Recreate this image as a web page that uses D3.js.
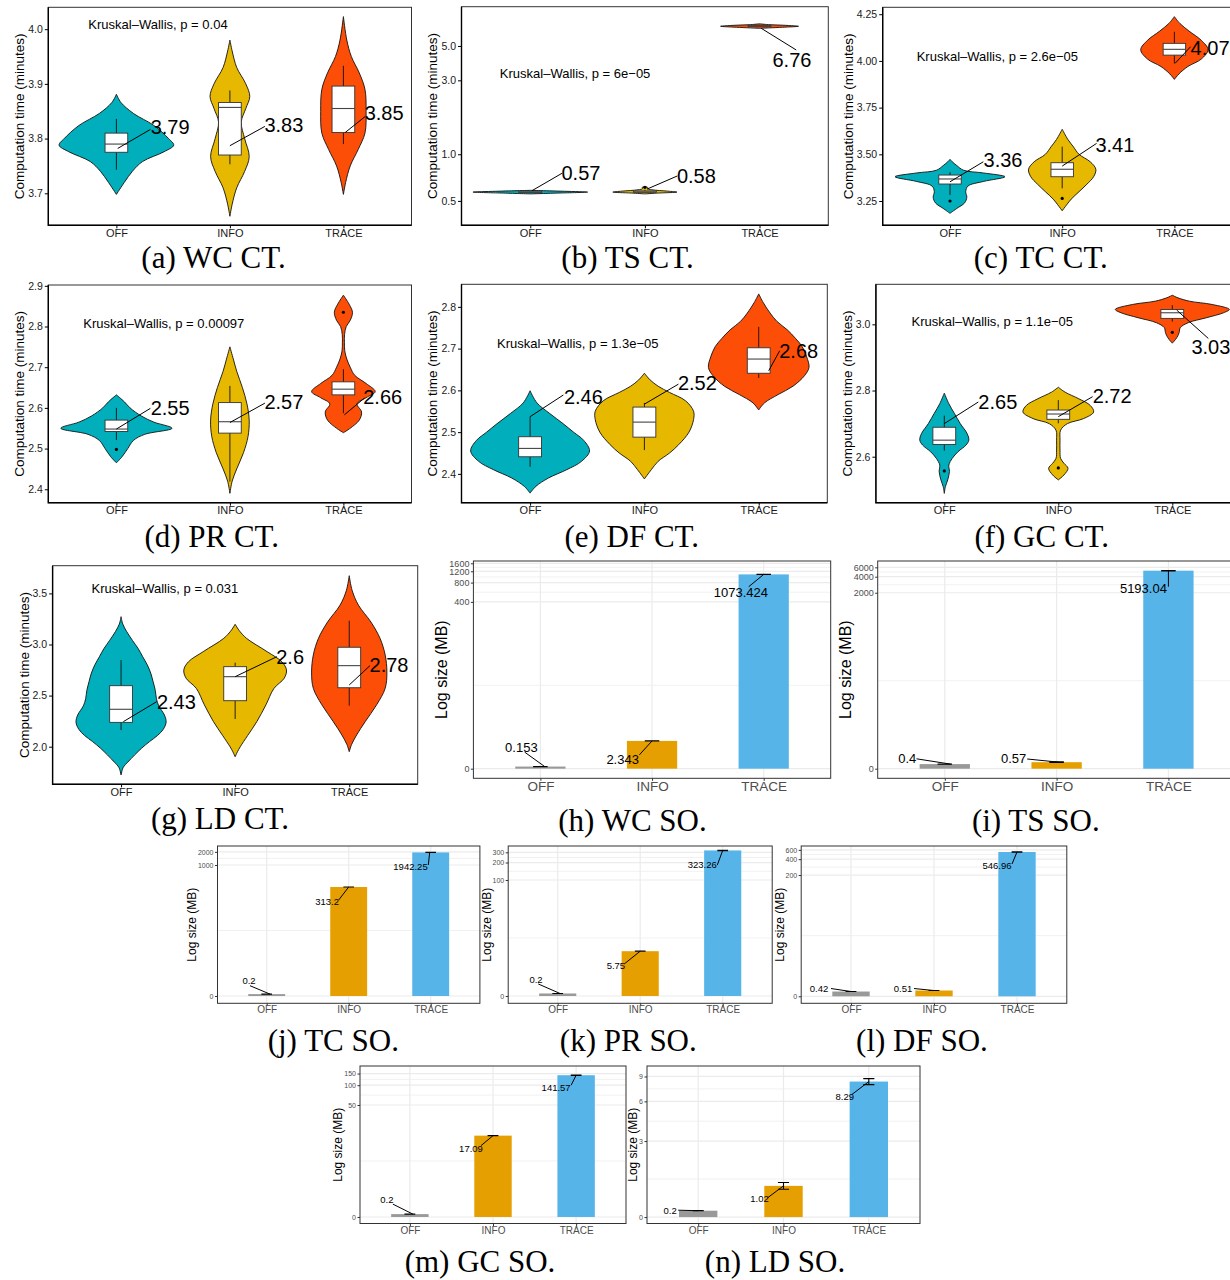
<!DOCTYPE html>
<html>
<head>
<meta charset="utf-8">
<script src="https://cdn.jsdelivr.net/npm/d3@7"></script>
<style>
  body { margin: 0; background: #fff; }
  svg { display: block; }
</style>
</head>
<body>
<svg id="fig" width="1230" height="1280"></svg>
<script>
// ---------------------------------------------------------------
// Data
// ---------------------------------------------------------------
const levels = ["OFF", "INFO", "TRACE"];
const violinFill = ["#00AFBB", "#E7B800", "#FC4E07"];
const barFill = ["#999999", "#E69F00", "#56B4E9"];

// Computation time: density outline per level as [minutes, half-width in category units],
// box stats as [lower whisker, Q1, median, Q3, upper whisker], outliers, mean.
const wcCtDensity = [
  [[3.698,0],[3.72,0.07],[3.74,0.14],[3.758,0.23],[3.776,0.42],[3.788,0.505],[3.80,0.46],[3.824,0.33],[3.846,0.15],[3.866,0.04],[3.881,0]],
  [[3.658,0],[3.68,0.02],[3.71,0.06],[3.74,0.13],[3.767,0.17],[3.80,0.13],[3.83,0.10],[3.855,0.14],[3.877,0.175],[3.90,0.14],[3.93,0.06],[3.96,0.02],[3.98,0]],
  [[3.698,0],[3.72,0.02],[3.75,0.06],[3.78,0.13],[3.81,0.19],[3.85,0.2],[3.89,0.19],[3.92,0.14],[3.95,0.07],[3.98,0.03],[4.023,0]]
];
const wcCtBox = [[3.743,3.775,3.790,3.81,3.836],[3.753,3.770,3.857,3.866,3.888],[3.790,3.811,3.855,3.896,3.933]];
const wcCtOutliers = [[],[],[]];
const wcCtMean = [3.79, 3.83, 3.85];
const wcCtTicks = [3.7, 3.8, 3.9, 4.0];
const wcCtTest = "Kruskal\u2013Wallis, p = 0.04";

const tsCtDensity = [
  [[0.555,0],[0.562,0.25],[0.57,0.5],[0.577,0.3],[0.585,0]],
  [[0.555,0],[0.562,0.12],[0.57,0.28],[0.578,0.2],[0.59,0.06],[0.60,0.02],[0.61,0.025],[0.62,0]],
  [[6.5,0],[6.6,0.2],[6.7,0.34],[6.78,0.25],[6.88,0.06],[6.95,0]]
];
const tsCtBox = [[0.562,0.566,0.570,0.577,0.582],[0.565,0.568,0.572,0.58,0.59],[6.62,6.68,6.72,6.78,6.85]];
const tsCtOutliers = [[],[0.612],[]];
const tsCtMean = [0.57, 0.58, 6.76];
const tsCtTicks = [0.5, 1.0, 3.0, 5.0];
const tsCtTest = "Kruskal\u2013Wallis, p = 6e\u221205";

const tcCtDensity = [
  [[3.184,0],[3.21,0.06],[3.24,0.13],[3.27,0.15],[3.30,0.14],[3.33,0.16],[3.355,0.3],[3.38,0.49],[3.40,0.3],[3.415,0.12],[3.44,0.06],[3.46,0.02],[3.473,0]],
  [[3.198,0],[3.23,0.04],[3.26,0.08],[3.30,0.15],[3.34,0.22],[3.38,0.28],[3.42,0.30],[3.46,0.25],[3.50,0.15],[3.54,0.10],[3.58,0.05],[3.634,0]],
  [[3.901,0],[3.93,0.04],[3.97,0.12],[4.01,0.24],[4.06,0.30],[4.11,0.24],[4.16,0.13],[4.20,0.05],[4.237,0]]
];
const tcCtBox = [[3.282,3.341,3.368,3.389,3.404],[3.318,3.380,3.42,3.455,3.541],[3.987,4.031,4.062,4.094,4.156]];
const tcCtOutliers = [[3.25],[3.264],[]];
const tcCtMean = [3.36, 3.41, 4.07];
const tcCtTicks = [3.25, 3.5, 3.75, 4.0, 4.25];
const tcCtTest = "Kruskal\u2013Wallis, p = 2.6e\u221205";

const prCtDensity = [
  [[2.465,0],[2.48,0.05],[2.50,0.1],[2.52,0.15],[2.535,0.25],[2.55,0.49],[2.565,0.33],[2.58,0.22],[2.60,0.12],[2.615,0.07],[2.632,0]],
  [[2.39,0],[2.42,0.02],[2.45,0.06],[2.49,0.12],[2.53,0.16],[2.57,0.17],[2.61,0.15],[2.65,0.11],[2.69,0.06],[2.72,0.03],[2.75,0]],
  [[2.539,0],[2.55,0.06],[2.57,0.14],[2.59,0.16],[2.61,0.12],[2.625,0.2],[2.64,0.28],[2.66,0.2],[2.68,0.1],[2.70,0.06],[2.72,0.03],[2.74,0.012],[2.76,0.009],[2.78,0.01],[2.80,0.025],[2.815,0.06],[2.835,0.08],[2.855,0.05],[2.877,0]]
];
const prCtBox = [[2.521,2.542,2.548,2.570,2.60],[2.419,2.538,2.566,2.613,2.654],[2.587,2.632,2.646,2.664,2.695]];
const prCtOutliers = [[2.498],[],[2.835]];
const prCtMean = [2.55, 2.57, 2.66];
const prCtTicks = [2.4, 2.5, 2.6, 2.7, 2.8, 2.9];
const prCtTest = "Kruskal\u2013Wallis, p = 0.00097";

const dfCtDensity = [
  [[2.354,0],[2.37,0.05],[2.39,0.16],[2.41,0.32],[2.43,0.45],[2.455,0.52],[2.48,0.47],[2.50,0.38],[2.52,0.29],[2.545,0.17],[2.57,0.06],[2.599,0]],
  [[2.388,0],[2.41,0.06],[2.43,0.12],[2.45,0.22],[2.47,0.3],[2.50,0.39],[2.53,0.43],[2.55,0.43],[2.575,0.36],[2.595,0.22],[2.61,0.12],[2.625,0.05],[2.641,0]],
  [[2.553,0],[2.57,0.05],[2.59,0.17],[2.61,0.3],[2.635,0.4],[2.655,0.44],[2.68,0.42],[2.705,0.38],[2.725,0.32],[2.745,0.25],[2.765,0.16],[2.785,0.1],[2.81,0.04],[2.831,0]]
];
const dfCtBox = [[2.417,2.441,2.461,2.489,2.537],[2.457,2.488,2.524,2.56,2.57],[2.63,2.641,2.675,2.702,2.752]];
const dfCtOutliers = [[],[],[]];
const dfCtMean = [2.46, 2.52, 2.68];
const dfCtTicks = [2.4, 2.5, 2.6, 2.7, 2.8];
const dfCtTest = "Kruskal\u2013Wallis, p = 1.3e\u221205";

const gcCtDensity = [
  [[2.489,0],[2.51,0.01],[2.53,0.03],[2.555,0.045],[2.575,0.04],[2.595,0.07],[2.615,0.12],[2.635,0.19],[2.65,0.215],[2.67,0.2],[2.70,0.14],[2.73,0.09],[2.76,0.04],[2.792,0]],
  [[2.53,0],[2.545,0.05],[2.565,0.085],[2.58,0.05],[2.595,0.02],[2.62,0.015],[2.65,0.015],[2.68,0.02],[2.70,0.08],[2.715,0.22],[2.735,0.31],[2.755,0.28],[2.775,0.18],[2.795,0.06],[2.81,0]],
  [[2.943,0],[2.96,0.04],[2.975,0.06],[2.99,0.07],[3.005,0.14],[3.02,0.3],[3.035,0.45],[3.045,0.5],[3.06,0.35],[3.07,0.15],[3.08,0.05],[3.088,0]]
];
const gcCtBox = [[2.618,2.637,2.65,2.689,2.724],[2.701,2.713,2.729,2.741,2.771],[3.008,3.018,3.035,3.045,3.058]];
const gcCtOutliers = [[2.557],[2.566],[2.976]];
const gcCtMean = [2.65, 2.72, 3.03];
const gcCtTicks = [2.6, 2.8, 3.0];
const gcCtTest = "Kruskal\u2013Wallis, p = 1.1e\u221205";

const ldCtDensity = [
  [[1.723,0],[1.80,0.02],[1.85,0.06],[1.92,0.12],[1.985,0.18],[2.05,0.25],[2.11,0.32],[2.17,0.37],[2.24,0.395],[2.31,0.38],[2.40,0.33],[2.47,0.31],[2.55,0.3],[2.64,0.28],[2.72,0.26],[2.80,0.23],[2.88,0.19],[2.96,0.15],[3.04,0.1],[3.125,0.05],[3.20,0.015],[3.272,0]],
  [[1.902,0],[1.95,0.02],[2.0,0.045],[2.11,0.11],[2.245,0.19],[2.41,0.27],[2.57,0.34],[2.67,0.43],[2.75,0.45],[2.83,0.41],[2.93,0.28],[3.06,0.1],[3.13,0.04],[3.198,0]],
  [[1.951,0],[2.02,0.02],[2.115,0.065],[2.245,0.14],[2.41,0.24],[2.571,0.315],[2.73,0.33],[2.897,0.315],[3.06,0.27],[3.22,0.19],[3.386,0.08],[3.53,0.025],[3.673,0]]
];
const ldCtBox = [[2.163,2.238,2.366,2.597,2.848],[2.271,2.45,2.685,2.783,2.822],[2.401,2.577,2.793,2.973,3.233]];
const ldCtOutliers = [[],[],[]];
const ldCtMean = [2.43, 2.6, 2.78];
const ldCtTicks = [2.0, 2.5, 3.0, 3.5];
const ldCtTest = "Kruskal\u2013Wallis, p = 0.031";

// Storage overhead (MB): mean and standard deviation per level, axis ticks.
const wcSoMean = [0.153, 2.343, 1073.424];
const wcSoSd = [0.002, 0.01, 3];
const wcSoTicks = [0, 400, 800, 1200, 1600];

const tsSoMean = [0.4, 0.57, 5193.04];
const tsSoSd = [0.004, 0.03, 40];
const tsSoTicks = [0, 2000, 4000, 6000];

const tcSoMean = [0.2, 313.2, 1942.25];
const tcSoSd = [0.002, 1, 8];
const tcSoTicks = [0, 1000, 2000];

const prSoMean = [0.2, 5.75, 323.26];
const prSoSd = [0.002, 0.03, 2];
const prSoTicks = [0, 100, 200, 300];

const dfSoMean = [0.42, 0.51, 546.96];
const dfSoSd = [0.004, 0.004, 3];
const dfSoTicks = [0, 200, 400, 600];

const gcSoMean = [0.2, 17.09, 141.57];
const gcSoSd = [0.002, 0.1, 1];
const gcSoTicks = [0, 50, 100, 150];

const ldSoMean = [0.2, 1.02, 8.29];
const ldSoSd = [0.003, 0.12, 0.4];
const ldSoTicks = [0, 3, 6, 9];

// ---------------------------------------------------------------
// Layout
// ---------------------------------------------------------------
const svg = d3.select("#fig");
const SANS = "'Liberation Sans', Arial, Helvetica, sans-serif";
const SERIF = "'Liberation Serif', 'Times New Roman', serif";

// leader placement: [start value, start dx, end dx, end dy, text dx, text dy] (px relative to start)
const ctLeaders = {
  a: [[3.782,1.3,32.7,-19,52.4,-21.6],[3.787,0,35,-19.3,54,-21],[3.811,1.7,20,-16,39,-20]],
  b: [[0.582,1.7,30,-17.4,49,-18],[0.597,2.4,30,-13,49.1,-13],[6.50,1.7,35,21.7,30.7,31.7]],
  c: [[3.353,0,33.3,-20,53,-21.7],[3.437,0,34.4,-22.7,52.7,-21],[3.987,0.7,15.5,-16.6,35,-15]],
  d: [[2.548,0,34,-20.7,53.7,-20.7],[2.564,0,35,-19.4,54,-21],[2.583,1,20,-16.7,38.3,-18.3]],
  e: [[2.537,0,33.3,-21.7,53.3,-20],[2.567,0,34,-20,53,-20.7],[2.647,10,11,-20,30,-19.7]],
  f: [[2.70,0,34,-21.6,53.5,-21.6],[2.721,0,34.3,-20,53.8,-20.7],[3.043,4.4,31.6,28.3,34.2,36.7]],
  g: [[2.245,2.3,33.4,-20,53,-20],[2.685,0,41.7,-20,55,-20],[2.604,0,20.7,-19.3,39.8,-20]]
};
// bar value labels: [start dx, end dx, end dy, text dx, text dy]
const soLeaders = {
  h: [[4.3,-20,-14.4,-23.3,-19],[0,-12.7,14,-29.4,18.3],[0,-15,12.3,-22.8,18.3]],
  i: [[5.7,-34,-5.3,-43.2,-6],[2.3,-31.7,-3.2,-45.3,-3.9],[0,0,16,-25,17.6]],
  j: [[3.3,-20,-8.4,-21,-13.4],[0,-10,13,-21.6,14],[-1,-1.4,12.6,-19.2,13.6]],
  k: [[2.3,-21.7,-9.5,-24,-13.5],[0,-16,12.8,-24.3,13.8],[0,-5.4,14.6,-20.4,13.9]],
  l: [[0,-20,-3,-32,-3],[0,-20,-2,-31,-2],[0,-5,12,-20,13]],
  m: [[3,-20,-10,-26,-15],[0,-12,10,-22,13],[0,-5,10,-20,12]],
  n: [[0,-20,-0.5,-28,0],[0,-16,12,-24,13],[0,-17,13,-24,15]]
};

const ctPanels = [
  {id:"a", frame:[48.3,7.3,411.5,225.3], log:false, domain:[3.6415,4.040], fmt:".1f",
   density:wcCtDensity, stats:wcCtBox, outliers:wcCtOutliers, mean:wcCtMean, ticks:wcCtTicks, test:wcCtTest, testAt:[40,4.008],
   caption:"(a) WC CT.", capAt:[213.5,268]},
  {id:"b", frame:[461.5,6.7,828.3,225.3], log:true, domain:[0.348,8.96], fmt:".1f",
   density:tsCtDensity, stats:tsCtBox, outliers:tsCtOutliers, mean:tsCtMean, ticks:tsCtTicks, test:tsCtTest, testAt:[38.3,3.33],
   caption:"(b) TS CT.", capAt:[627.5,268]},
  {id:"c", frame:[882.7,7.3,1241.7,225.3], log:false, domain:[3.120,4.287], fmt:".2f",
   density:tcCtDensity, stats:tcCtBox, outliers:tcCtOutliers, mean:tcCtMean, ticks:tcCtTicks, test:tcCtTest, testAt:[34,4.022],
   caption:"(c) TC CT.", capAt:[1040.8,268]},
  {id:"d", frame:[48.3,285,411.5,502.7], log:false, domain:[2.367,2.902], fmt:".1f",
   density:prCtDensity, stats:prCtBox, outliers:prCtOutliers, mean:prCtMean, ticks:prCtTicks, test:prCtTest, testAt:[35,2.808],
   caption:"(d) PR CT.", capAt:[211.7,546.5]},
  {id:"e", frame:[461.5,284.3,827.3,502.7], log:false, domain:[2.331,2.854], fmt:".1f",
   density:dfCtDensity, stats:dfCtBox, outliers:dfCtOutliers, mean:dfCtMean, ticks:dfCtTicks, test:dfCtTest, testAt:[35.6,2.713],
   caption:"(e) DF CT.", capAt:[631.7,546.5]},
  {id:"f", frame:[875.9,284.3,1240.7,502.7], log:false, domain:[2.461,3.121], fmt:".1f",
   density:gcCtDensity, stats:gcCtBox, outliers:gcCtOutliers, mean:gcCtMean, ticks:gcCtTicks, test:gcCtTest, testAt:[35.7,3.008],
   caption:"(f) GC CT.", capAt:[1041.7,546.5]},
  {id:"g", frame:[52.6,565.7,417.7,784.3], log:false, domain:[1.632,3.771], fmt:".1f",
   density:ldCtDensity, stats:ldCtBox, outliers:ldCtOutliers, mean:ldCtMean, ticks:ldCtTicks, test:ldCtTest, testAt:[39,3.55],
   caption:"(g) LD CT.", capAt:[220,829]}
];

const soPanels = [
  {id:"h", frame:[473.4,561,830.7,778.3], tDomain:[-0.150,3.240], mean:wcSoMean, sd:wcSoSd, ticks:wcSoTicks, big:true,
   caption:"(h) WC SO.", capAt:[632.5,831]},
  {id:"i", frame:[877.7,561,1235.5,778.3], tDomain:[-0.180,3.897], mean:tsSoMean, sd:tsSoSd, ticks:tsSoTicks, big:true,
   caption:"(i) TS SO.", capAt:[1035.8,831]},
  {id:"j", frame:[217.5,846,479.9,1003.3], tDomain:[-0.167,3.435], mean:tcSoMean, sd:tcSoSd, ticks:tcSoTicks, big:false,
   caption:"(j) TC SO.", capAt:[333.3,1051]},
  {id:"k", frame:[508.2,846,772.2,1003.3], tDomain:[-0.126,2.586], mean:prSoMean, sd:prSoSd, ticks:prSoTicks, big:false,
   caption:"(k) PR SO.", capAt:[628.3,1051]},
  {id:"l", frame:[801.2,846,1066.8,1003.3], tDomain:[-0.133,2.852], mean:dfSoMean, sd:dfSoSd, ticks:dfSoTicks, big:false,
   caption:"(l) DF SO.", capAt:[922,1051]},
  {id:"m", frame:[360,1066,626,1223.5], tDomain:[-0.099,2.291], mean:gcSoMean, sd:gcSoSd, ticks:gcSoTicks, big:false,
   caption:"(m) GC SO.", capAt:[480,1272]},
  {id:"n", frame:[647,1066,920,1223.5], tDomain:[-0.044,1.031], mean:ldSoMean, sd:ldSoSd, ticks:ldSoTicks, big:false,
   caption:"(n) LD SO.", capAt:[775,1272]}
];

// ---------------------------------------------------------------
// Helpers
// ---------------------------------------------------------------
function styleAxis(sel, size, color, tickColor) {
  sel.select(".domain").remove();
  sel.selectAll(".tick line").attr("stroke", tickColor).attr("stroke-width", 1);
  sel.selectAll(".tick text").attr("fill", color)
    .style("font-size", size + "px").style("font-family", SANS);
}

function maxLabelWidth(sel) {
  let w = 0;
  sel.selectAll(".tick text").each(function () { w = Math.max(w, this.getBBox().width); });
  return w;
}

function yTitle(g, text, x, cy, size) {
  g.append("text")
    .attr("transform", `translate(${x},${cy}) rotate(-90)`)
    .attr("text-anchor", "middle").attr("dy", "0.35em")
    .style("font-family", SANS).style("font-size", size + "px").attr("fill", "#000")
    .text(text);
}

function caption(text, at) {
  svg.append("text").attr("x", at[0]).attr("y", at[1]).attr("text-anchor", "middle")
    .style("font-family", SERIF).style("font-size", "31px").attr("fill", "#000")
    .text(text);
}

// pseudo-log axis (asinh(v/2) / ln 10) built on a linear scale
function pseudoLog(lin) {
  const s = v => lin(Math.asinh(v / 2) / Math.LN10);
  s.range = () => lin.range();
  s.domain = () => lin.domain().map(t => 2 * Math.sinh(t * Math.LN10));
  s.copy = () => pseudoLog(lin.copy());
  return s;
}

// ---------------------------------------------------------------
// Violin panels: computation time
// ---------------------------------------------------------------
function violinPanel(p) {
  const [L, T, R, B] = p.frame;
  const g = svg.append("g").attr("class", "panel-" + p.id);
  const x = d3.scalePoint().domain(levels).range([L, R]).padding(0.6);
  const step = x.step();
  const y = (p.log ? d3.scaleLog() : d3.scaleLinear()).domain(p.domain).range([B, T]);

  // violins
  p.density.forEach((prof, i) => {
    const cx = x(levels[i]);
    const area = d3.area().curve(d3.curveCatmullRom.alpha(0.5))
      .y(d => y(d[0])).x0(d => cx - d[1] * step).x1(d => cx + d[1] * step);
    g.append("path").attr("d", area(prof))
      .attr("fill", violinFill[i]).attr("stroke", "#111").attr("stroke-width", 0.9);
  });

  // box plots
  const bw = 0.2 * step;
  p.stats.forEach((s, i) => {
    const cx = x(levels[i]);
    const [lo, q1, med, q3, hi] = s;
    g.append("line").attr("x1", cx).attr("x2", cx).attr("y1", y(q3)).attr("y2", y(hi))
      .attr("stroke", "#111").attr("stroke-width", 0.9);
    g.append("line").attr("x1", cx).attr("x2", cx).attr("y1", y(q1)).attr("y2", y(lo))
      .attr("stroke", "#111").attr("stroke-width", 0.9);
    g.append("rect").attr("x", cx - bw / 2).attr("width", bw)
      .attr("y", y(q3)).attr("height", Math.max(0.5, y(q1) - y(q3)))
      .attr("fill", "#fff").attr("stroke", "#333").attr("stroke-width", 0.9);
    g.append("line").attr("x1", cx - bw / 2).attr("x2", cx + bw / 2).attr("y1", y(med)).attr("y2", y(med))
      .attr("stroke", "#444").attr("stroke-width", 1.1);
    p.outliers[i].forEach(v => {
      g.append("circle").attr("cx", cx).attr("cy", y(v)).attr("r", 1.6).attr("fill", "#000");
    });
  });

  // mean labels with leaders
  ctLeaders[p.id].forEach((l, i) => {
    const [fromV, fx, ex, ey, tx, ty] = l;
    const sx = x(levels[i]) + fx, sy = y(fromV);
    g.append("line").attr("x1", sx).attr("y1", sy).attr("x2", sx + ex).attr("y2", sy + ey)
      .attr("stroke", "#000").attr("stroke-width", 1);
    g.append("text").attr("x", sx + tx).attr("y", sy + ty)
      .attr("text-anchor", "middle").attr("dominant-baseline", "central")
      .style("font-family", SANS).style("font-size", "20px").attr("fill", "#000")
      .text(String(p.mean[i]));
  });

  // Kruskal-Wallis annotation
  g.append("text").attr("x", L + p.testAt[0]).attr("y", y(p.testAt[1]))
    .attr("dominant-baseline", "central")
    .style("font-family", SANS).style("font-size", "13px").attr("fill", "#000")
    .text(p.test);

  // frame
  g.append("rect").attr("x", L).attr("y", T).attr("width", R - L).attr("height", B - T)
    .attr("fill", "none").attr("stroke", "#333").attr("stroke-width", 1);
  g.append("path").attr("d", `M${L},${T}V${B}H${R}`)
    .attr("fill", "none").attr("stroke", "#000").attr("stroke-width", 1.4);

  // axes
  const ya = g.append("g").attr("transform", `translate(${L},0)`)
    .call(d3.axisLeft(y).tickValues(p.ticks).tickFormat(d3.format(p.fmt)).tickSize(3.5).tickPadding(2));
  styleAxis(ya, 10.5, "#1a1a1a", "#000");
  const xa = g.append("g").attr("transform", `translate(0,${B})`)
    .call(d3.axisBottom(x).tickSize(3).tickPadding(1));
  styleAxis(xa, 11, "#1a1a1a", "#000");

  const w = maxLabelWidth(ya);
  yTitle(g, "Computation time (minutes)", L - 5.5 - w - 8.5, (T + B) / 2, 13.5);
  caption(p.caption, p.capAt);
}

// ---------------------------------------------------------------
// Bar panels: storage overhead (pseudo-log axis)
// ---------------------------------------------------------------
function barPanel(p) {
  const [L, T, R, B] = p.frame;
  const g = svg.append("g").attr("class", "panel-" + p.id);
  const x = d3.scalePoint().domain(levels).range([L, R]).padding(0.6);
  const step = x.step();
  const y = pseudoLog(d3.scaleLinear().domain(p.tDomain).range([B, T]));

  const tickSize = p.big ? 9 : 7;
  const xSize = p.big ? 13.5 : 10;
  const titleSize = p.big ? 16 : 12;
  const valSize = p.big ? 13 : 9.5;

  // grid: minor lines halfway between major ticks, then majors
  for (let k = 0; k < p.ticks.length - 1; k++) {
    const ym = (y(p.ticks[k]) + y(p.ticks[k + 1])) / 2;
    g.append("line").attr("x1", L).attr("x2", R).attr("y1", ym).attr("y2", ym)
      .attr("stroke", "#EBEBEB").attr("stroke-width", 0.7);
  }
  p.ticks.forEach(v => {
    g.append("line").attr("x1", L).attr("x2", R).attr("y1", y(v)).attr("y2", y(v))
      .attr("stroke", "#EBEBEB").attr("stroke-width", 1.2);
  });
  levels.forEach(lv => {
    g.append("line").attr("x1", x(lv)).attr("x2", x(lv)).attr("y1", T).attr("y2", B)
      .attr("stroke", "#EBEBEB").attr("stroke-width", 1.2);
  });

  // bars
  const bw = 0.45 * step;
  p.mean.forEach((m, i) => {
    const cx = x(levels[i]);
    g.append("rect").attr("x", cx - bw / 2).attr("width", bw)
      .attr("y", y(m)).attr("height", y(0) - y(m)).attr("fill", barFill[i]);
  });

  // error bars
  const cw = 0.13 * step;
  p.mean.forEach((m, i) => {
    const cx = x(levels[i]);
    const lo = y(Math.max(0, m - p.sd[i])), hi = y(m + p.sd[i]);
    g.append("path")
      .attr("d", `M${cx - cw / 2},${hi}H${cx + cw / 2}M${cx},${hi}V${lo}M${cx - cw / 2},${lo}H${cx + cw / 2}`)
      .attr("fill", "none").attr("stroke", "#000").attr("stroke-width", 1.1);
  });

  // value labels
  soLeaders[p.id].forEach((l, i) => {
    const [fx, ex, ey, tx, ty] = l;
    const sx = x(levels[i]) + fx, sy = y(p.mean[i]);
    g.append("line").attr("x1", sx).attr("y1", sy).attr("x2", sx + ex).attr("y2", sy + ey)
      .attr("stroke", "#000").attr("stroke-width", 1);
    g.append("text").attr("x", sx + tx).attr("y", sy + ty)
      .attr("text-anchor", "middle").attr("dominant-baseline", "central")
      .style("font-family", SANS).style("font-size", valSize + "px").attr("fill", "#000")
      .text(String(p.mean[i]));
  });

  // frame
  g.append("rect").attr("x", L).attr("y", T).attr("width", R - L).attr("height", B - T)
    .attr("fill", "none").attr("stroke", "#333").attr("stroke-width", 1);

  // axes
  const ya = g.append("g").attr("transform", `translate(${L},0)`)
    .call(d3.axisLeft(y).tickValues(p.ticks).tickFormat(d3.format("d")).tickSize(2.5).tickPadding(1.5));
  styleAxis(ya, tickSize, "#4D4D4D", "#333");
  const xa = g.append("g").attr("transform", `translate(0,${B})`)
    .call(d3.axisBottom(x).tickSize(2.5).tickPadding(0.5));
  styleAxis(xa, xSize, "#4D4D4D", "#333");

  const w = maxLabelWidth(ya);
  yTitle(g, "Log size (MB)", L - 4 - w - titleSize * 0.5, (T + B) / 2, titleSize);
  caption(p.caption, p.capAt);
}

ctPanels.forEach(violinPanel);
soPanels.forEach(barPanel);
</script>
</body>
</html>
